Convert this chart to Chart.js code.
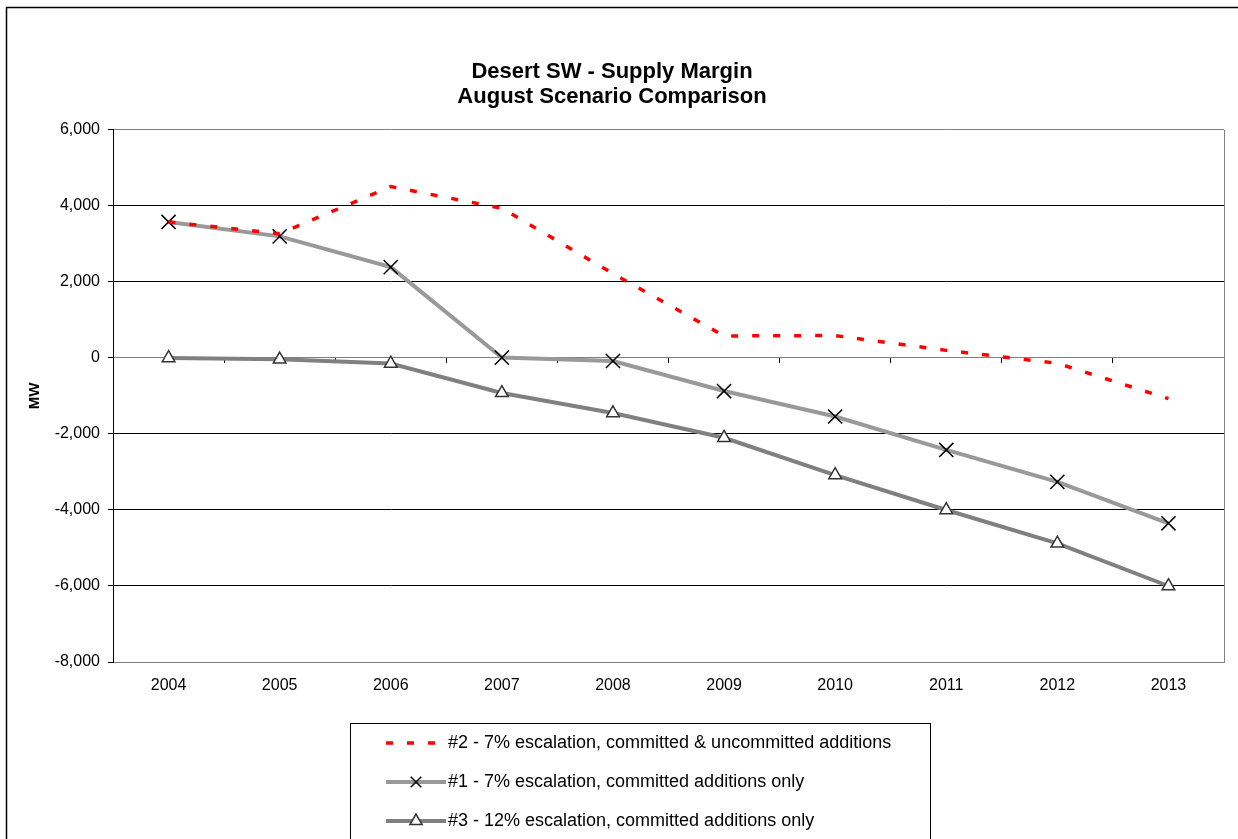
<!DOCTYPE html>
<html>
<head>
<meta charset="utf-8">
<style>
  html, body { margin: 0; padding: 0; background: #fff; }
  #wrap { width: 1238px; height: 839px; position: relative; }
</style>
<script src="https://cdn.jsdelivr.net/npm/chart.js"></script>
</head>
<body>
<div id="wrap"><canvas id="c" width="1238" height="839"></canvas></div>
<script>
// ---- data ----
const categories = ['2004','2005','2006','2007','2008','2009','2010','2011','2012','2013'];
const seriesNames = [
  '#2 - 7% escalation, committed & uncommitted additions',
  '#1 - 7% escalation, committed additions only',
  '#3 - 12% escalation, committed additions only'
];
const scenario2 = [3580, 3270, 4510, 3940, 2220, 580, 590, 200, -140, -1070];
const scenario1 = [3580, 3200, 2390, 10, -80, -870, -1540, -2420, -3260, -4350];
const scenario3 = [0, -35, -145, -920, -1450, -2100, -3080, -4000, -4880, -6000];
const titleLines = ['Desert SW - Supply Margin', 'August Scenario Comparison'];
const yAxisTitle = 'MW';
const yMin = -8000, yMax = 6000, yStep = 2000;

const FONT = '"Liberation Sans", Arial, Helvetica, sans-serif';
Chart.defaults.font.family = FONT;
Chart.defaults.color = '#000';

// plot frame + outer border
const framePlugin = {
  id: 'frame',
  beforeDraw(chart) {
    const ctx = chart.ctx;
    ctx.save();
    ctx.fillStyle = '#fff';
    ctx.fillRect(0, 0, chart.width, chart.height);
    ctx.strokeStyle = '#000';
    ctx.lineWidth = 1.5;
    ctx.strokeRect(6.5, 7.5, chart.width + 20, chart.height + 20);
    ctx.restore();
  },
  beforeDatasetsDraw(chart) {
    const a = chart.chartArea, ctx = chart.ctx;
    ctx.save();
    ctx.strokeStyle = '#808080';
    ctx.lineWidth = 1;
    ctx.beginPath();
    ctx.moveTo(Math.round(a.right) + 0.5, Math.round(a.top));
    ctx.lineTo(Math.round(a.right) + 0.5, Math.round(a.bottom));
    ctx.stroke();
    ctx.restore();
  }
};

// boxed legend (one item per row, line sample + marker)
const boxLegendPlugin = {
  id: 'boxLegend',
  afterDraw(chart) {
    const ctx = chart.ctx;
    const boxL = 350, boxT = 723, boxW = 580;
    ctx.save();
    ctx.strokeStyle = '#000';
    ctx.lineWidth = 1;
    ctx.strokeRect(boxL + 0.5, boxT + 0.5, boxW, 200);
    chart.data.datasets.forEach((ds, i) => {
      const y = 743 + i * 39;
      const x0 = 386, x1 = 446;
      ctx.save();
      ctx.strokeStyle = ds.borderColor;
      ctx.lineWidth = ds.borderWidth;
      ctx.setLineDash(ds.borderDash || []);
      ctx.beginPath();
      ctx.moveTo(x0, y);
      ctx.lineTo(x1, y);
      ctx.stroke();
      ctx.restore();
      if (ds.pointRadius > 0) {
        ctx.save();
        ctx.strokeStyle = ds.pointBorderColor;
        ctx.fillStyle = ds.pointBackgroundColor;
        ctx.lineWidth = ds.pointBorderWidth;
        Chart.helpers.drawPoint(ctx, {
          pointStyle: ds.pointStyle,
          radius: ds.legendRadius,
          borderWidth: ds.pointBorderWidth,
          rotation: 0
        }, (x0 + x1) / 2, y);
        ctx.restore();
      }
      ctx.fillStyle = '#000';
      ctx.font = '18px ' + FONT;
      ctx.textBaseline = 'middle';
      ctx.textAlign = 'left';
      ctx.fillText(ds.label, 448, y);
    });
    ctx.restore();
  }
};

const gridColor = (ctx) => {
  const v = ctx.tick && ctx.tick.value;
  if (v === 0 || v === yMax || v === yMin) return '#808080';
  return '#000';
};

new Chart(document.getElementById('c'), {
  type: 'line',
  data: {
    labels: categories,
    datasets: [
      {
        label: seriesNames[0],
        data: scenario2,
        borderColor: '#FF0000',
        backgroundColor: '#FF0000',
        borderWidth: 3.5,
        borderDash: [7, 14],
        pointRadius: 0,
        pointHoverRadius: 0,
        tension: 0,
        order: 1
      },
      {
        label: seriesNames[1],
        data: scenario1,
        borderColor: '#999999',
        backgroundColor: '#999999',
        borderWidth: 4,
        pointStyle: 'crossRot',
        pointRadius: 10,
        legendRadius: 7.5,
        pointBorderColor: '#000',
        pointBackgroundColor: '#000',
        pointBorderWidth: 1.5,
        tension: 0,
        order: 2
      },
      {
        label: seriesNames[2],
        data: scenario3,
        borderColor: '#808080',
        backgroundColor: '#808080',
        borderWidth: 4,
        pointStyle: 'triangle',
        pointRadius: 7.3,
        legendRadius: 7,
        pointBorderColor: '#333',
        pointBackgroundColor: '#fff',
        pointBorderWidth: 1.5,
        tension: 0,
        order: 3
      }
    ]
  },
  options: {
    responsive: false,
    devicePixelRatio: 1,
    animation: false,
    events: [],
    layout: { padding: { left: 0, right: 14, top: 0, bottom: 137 } },
    plugins: {
      legend: { display: false },
      tooltip: { enabled: false },
      title: {
        display: true,
        text: titleLines,
        color: '#000',
        font: { size: 22, weight: 'bold', lineHeight: 1.14 },
        padding: { top: 59.5, bottom: 20.3 }
      }
    },
    scales: {
      x: {
        type: 'category',
        offset: true,
        position: 'bottom',
        grid: { display: false, drawTicks: false },
        border: { display: true, color: '#808080', width: 1 },
        ticks: { font: { size: 16 }, color: '#000', padding: 14, maxRotation: 0, autoSkip: false },
        afterFit(s) { s.height = 40; }
      },
      x2: {
        type: 'category',
        offset: true,
        position: { y: 0 },
        grid: { offset: true, drawOnChartArea: false, drawTicks: true, tickLength: 5, tickColor: '#000', lineWidth: 1 },
        border: { display: true, color: '#808080', width: 1 },
        ticks: { display: false }
      },
      y: {
        type: 'linear',
        min: yMin,
        max: yMax,
        position: 'left',
        grid: { color: gridColor, tickColor: '#000', tickLength: 5, lineWidth: 1 },
        border: { display: true, color: '#000', width: 1 },
        ticks: {
          stepSize: yStep,
          font: { size: 16 },
          color: '#000',
          padding: 8,
          callback: (v) => Number(v).toLocaleString('en-US')
        },
        title: {
          display: true,
          text: yAxisTitle,
          color: '#000',
          font: { size: 15, weight: 'bold' },
          padding: { top: 26, bottom: 0 }
        },
        afterFit(s) { s.width = 113; }
      }
    }
  },
  plugins: [framePlugin, boxLegendPlugin]
});
</script>
</body>
</html>
